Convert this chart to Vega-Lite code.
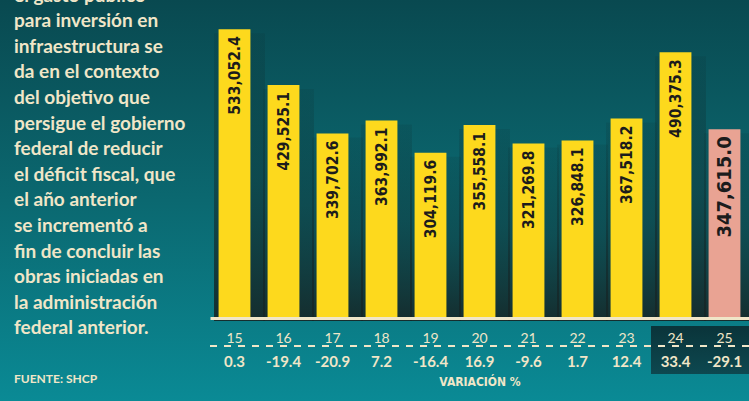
{
  "$schema": "https://vega.github.io/schema/vega-lite/v6.json",
  "width": 539,
  "height": 317,
  "autosize": {"type": "none"},
  "padding": {"left": 210, "top": 0, "right": 0, "bottom": 84},
  "background": "#0b6a72",
  "config": {"view": {"stroke": null}},
  "layer": [
    {
      "data": {"values": [{}]},
      "mark": {
        "type": "rect",
        "xOffset": -210,
        "y2Offset": 84,
        "color": {
          "gradient": "linear",
          "x1": 0, "y1": 0, "x2": 0, "y2": 1,
          "stops": [
            {"offset": 0, "color": "#094950"},
            {"offset": 0.5, "color": "#0b6870"},
            {"offset": 1, "color": "#0a8a95"}
          ]
        }
      },
      "encoding": {
        "x": {"value": 0},
        "x2": {"value": "width"},
        "y": {"value": 0},
        "y2": {"value": "height"}
      }
    },
    {
      "data": {
        "values": [
          {"year": "15", "value": 533052.4, "var": "0.3"},
          {"year": "16", "value": 429525.1, "var": "-19.4"},
          {"year": "17", "value": 339702.6, "var": "-20.9"},
          {"year": "18", "value": 363992.1, "var": "7.2"},
          {"year": "19", "value": 304119.6, "var": "-16.4"},
          {"year": "20", "value": 355558.1, "var": "16.9"},
          {"year": "21", "value": 321269.8, "var": "-9.6"},
          {"year": "22", "value": 326848.1, "var": "1.7"},
          {"year": "23", "value": 367518.2, "var": "12.4"},
          {"year": "24", "value": 490375.3, "var": "33.4"},
          {"year": "25", "value": 347615.0, "var": "-29.1"}
        ]
      },
      "encoding": {
        "x": {
          "field": "year",
          "type": "ordinal",
          "scale": {"paddingInner": 0.35, "paddingOuter": 0.175},
          "axis": {
            "zindex": 2,
            "title": "VARIACIÓN %",
            "labelAngle": 0,
            "ticks": false,
            "tickSize": 0,
            "grid": false,
            "domain": true,
            "domainColor": "#f0e6c8",
            "domainWidth": 3,
            "offset": 1,
            "labelPadding": 13,
            "labelFont": "Lato",
            "labelFontSize": 14,
            "labelColor": "#f0e6c8",
            "titleFont": "DejaVu Sans Condensed, DejaVu Sans",
            "titleFontSize": 12,
            "titleFontWeight": "bold",
            "titleColor": "#f0e6c8",
            "titleY": 63,
            "titleBaseline": "middle"
          }
        }
      },
      "layer": [
        {
          "mark": {
            "type": "bar",
            "width": {"band": 1.6},
            "xOffset": 5,
            "yOffset": 4,
            "color": {
              "gradient": "linear",
              "x1": 0, "y1": 0, "x2": 0, "y2": 1,
              "stops": [
                {"offset": 0, "color": "rgba(12,38,40,0.12)"},
                {"offset": 0.5, "color": "rgba(18,40,42,0.45)"},
                {"offset": 1, "color": "rgba(22,38,38,0.92)"}
              ]
            }
          },
          "encoding": {
            "y": {"field": "value", "type": "quantitative", "scale": {"domain": [0, 587000], "nice": false}, "axis": null}
          }
        },
        {
          "transform": [{"filter": {"field": "year", "oneOf": ["24", "25"]}}],
          "mark": {
            "type": "bar",
            "width": {"band": 1.5385},
            "color": {
              "gradient": "linear",
              "x1": 0, "y1": 0, "x2": 0, "y2": 1,
              "stops": [
                {"offset": 0, "color": "#0a343a"},
                {"offset": 1, "color": "#0d4850"}
              ]
            }
          },
          "encoding": {
            "y": {"datum": -16665},
            "y2": {"datum": -105547}
          }
        },
        {
          "mark": {"type": "bar"},
          "encoding": {
            "y": {"field": "value", "type": "quantitative"},
            "color": {
              "condition": {"test": "datum.year === '25'", "value": "#E9A393"},
              "value": "#FDD91D"
            }
          }
        },
        {
          "mark": {
            "type": "text",
            "angle": 270,
            "align": "right",
            "baseline": "middle",
            "yOffset": 7,
            "font": "DejaVu Sans Condensed, DejaVu Sans",
            "fontWeight": "bold",
            "color": "#1c1c1c"
          },
          "encoding": {
            "y": {"field": "value", "type": "quantitative"},
            "text": {"field": "value", "type": "quantitative", "format": ",.1f"},
            "size": {
              "condition": {"test": "datum.year === '25'", "value": 20},
              "value": 15.5
            }
          }
        },
        {
          "mark": {
            "type": "text",
            "font": "Lato",
            "fontWeight": "bold",
            "fontSize": 15,
            "color": "#f0e6c8",
            "baseline": "middle"
          },
          "encoding": {
            "y": {"datum": -83327},
            "text": {"field": "var", "type": "nominal"}
          }
        }
      ]
    },
    {
      "data": {"values": [{}]},
      "mark": {"type": "rule", "strokeDash": [7, 7], "color": "#f0e6c8", "strokeWidth": 2},
      "encoding": {"y": {"datum": -53700}}
    },
    {
      "data": {"values": [{}]},
      "mark": {
        "type": "text",
        "text": [
          "el gasto público",
          "para inversión en",
          "infraestructura se",
          "da en el contexto",
          "del objetivo que",
          "persigue el gobierno",
          "federal de reducir",
          "el déficit fiscal, que",
          "el año anterior",
          "se incrementó a",
          "fin de concluir las",
          "obras iniciadas en",
          "la administración",
          "federal anterior."
        ],
        "align": "left",
        "baseline": "alphabetic",
        "lineHeight": 25.6,
        "font": "Lato",
        "fontWeight": "bold",
        "fontSize": 19,
        "color": "#f0e6c8"
      },
      "encoding": {"x": {"value": -196}, "y": {"value": 1.6}}
    },
    {
      "data": {"values": [{}]},
      "mark": {
        "type": "text",
        "text": "FUENTE: SHCP",
        "align": "left",
        "baseline": "middle",
        "font": "Lato",
        "fontWeight": "bold",
        "fontSize": 12,
        "color": "#f0e6c8"
      },
      "encoding": {"x": {"value": -196}, "y": {"value": 379}}
    }
  ]
}
